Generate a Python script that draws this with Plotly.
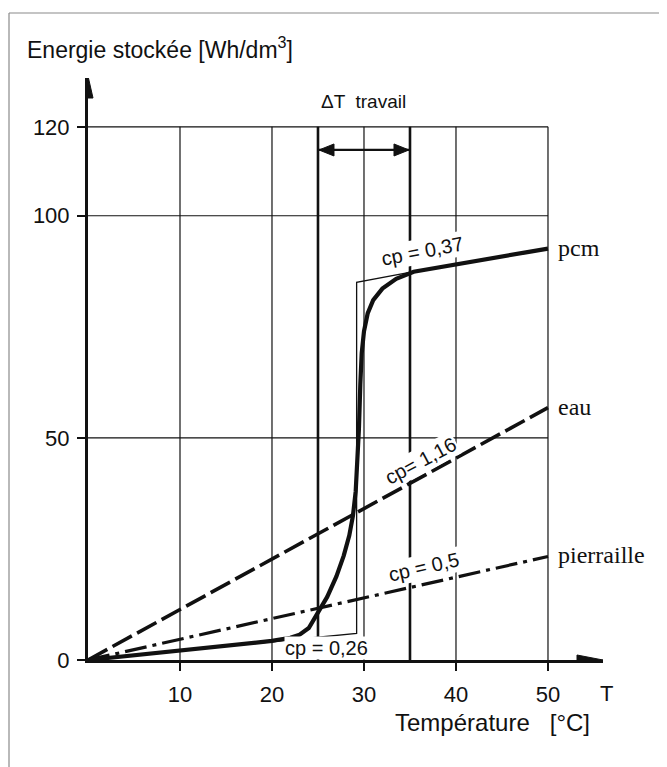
import plotly.graph_objects as go

# ---- data ----
pcm_T = [0, 10, 20, 22, 23, 24, 25, 26, 27, 27.8, 28.4, 28.8, 29.1, 29.3, 29.45, 29.6, 29.75, 30.0, 30.4, 31.0, 32.0, 33.5, 35.4, 50]
pcm_E = [0, 2.1, 4.3, 5.0, 5.7, 7.2, 10.6, 14.2, 18.8, 23.5, 28.0, 32.5, 38.0, 45.0, 52.0, 62.0, 69.0, 74.0, 78.0, 81.0, 83.6, 85.8, 87.4, 92.6]
pcm_ideal_T = [0, 29.2, 29.2, 35.4]
pcm_ideal_E = [0, 6.0, 85.0, 87.4]
eau_T = [0, 50]
eau_E = [0, 56.8]
pierre_T = [0, 50]
pierre_E = [0, 23.3]

x_ticks = [10, 20, 30, 40, 50]
x_ticktext = ["10", "20", "30", "40", "50"]
y_ticks = [0, 50, 100, 120]
y_ticktext = ["0", "50", "100", "120"]
v_grid = [10, 20, 30, 40, 50]
h_grid = [50, 100, 120]
work_band = [25, 35]
series_names = ["pcm", "eau", "pierraille"]
cp_labels = ["cp = 0,37", "cp= 1,16", "cp = 0,5", "cp = 0,26"]

SANS = "Liberation Sans"
SERIF = "Liberation Serif"
INK = "#111111"

# page body has an 8px margin: shift the figure accordingly
L, T, R, B = 80, 70, 64, 107
W, H = 659, 759
PW, PH = W - L - R, H - T - B          # plot area in px
XMAX, YMAX = 55.98, 131.0


def px_x(p):  # page pixel -> paper x
    return (p - 8 - L) / PW


def px_y(p):  # page pixel -> paper y
    return (H - B - (p - 8)) / PH


fig = go.Figure()

fig.add_trace(go.Scatter(x=pcm_ideal_T, y=pcm_ideal_E, mode="lines",
                         line=dict(color=INK, width=1.3), cliponaxis=False, showlegend=False))
fig.add_trace(go.Scatter(x=eau_T, y=eau_E, mode="lines",
                         line=dict(color=INK, width=3.6, dash="22px,6px"), cliponaxis=False, showlegend=False))
fig.add_trace(go.Scatter(x=pierre_T, y=pierre_E, mode="lines",
                         line=dict(color=INK, width=3.2, dash="22px,6px,4px,6px"), cliponaxis=False, showlegend=False))
fig.add_trace(go.Scatter(x=pcm_T, y=pcm_E, mode="lines",
                         line=dict(color=INK, width=4.2), cliponaxis=False, showlegend=False))

shapes = []
for v in v_grid:
    shapes.append(dict(type="line", xref="x", yref="y", x0=v, x1=v, y0=0, y1=h_grid[-1],
                       line=dict(color=INK, width=1.2), layer="below"))
for v in work_band:
    shapes.append(dict(type="line", xref="x", yref="y", x0=v, x1=v, y0=0, y1=h_grid[-1],
                       line=dict(color=INK, width=2.6), layer="below"))
for h in h_grid:
    shapes.append(dict(type="line", xref="x", yref="y", x0=0, x1=v_grid[-1], y0=h, y1=h,
                       line=dict(color=INK, width=1.2), layer="below"))

arr_y = 114.8
shapes.append(dict(type="line", xref="x", yref="y", x0=work_band[0], x1=work_band[1], y0=arr_y, y1=arr_y,
                   line=dict(color=INK, width=2.2)))
shapes.append(dict(type="path", xref="x", yref="y", xsizemode="pixel", ysizemode="pixel",
                   xanchor=work_band[0], yanchor=arr_y, path="M 1,0 L 16,6 L 16,-6 Z",
                   fillcolor=INK, line=dict(color=INK, width=1)))
shapes.append(dict(type="path", xref="x", yref="y", xsizemode="pixel", ysizemode="pixel",
                   xanchor=work_band[1], yanchor=arr_y, path="M -1,0 L -16,6 L -16,-6 Z",
                   fillcolor=INK, line=dict(color=INK, width=1)))

shapes.append(dict(type="path", xref="x", yref="y", xsizemode="pixel", ysizemode="pixel",
                   xanchor=0, yanchor=YMAX, path="M 0,2 L -5,-20 L 5,-20 Z",
                   fillcolor=INK, line=dict(color=INK, width=1)))
shapes.append(dict(type="path", xref="x", yref="y", xsizemode="pixel", ysizemode="pixel",
                   xanchor=XMAX, yanchor=0, path="M 0,0 L -26,5 L -26,-5 Z",
                   fillcolor=INK, line=dict(color=INK, width=1)))

# frame (top and left edges)
shapes.append(dict(type="line", xref="paper", yref="paper", x0=px_x(9), x1=px_x(662), y0=px_y(13), y1=px_y(13),
                   line=dict(color="#8a8a8a", width=1.2)))
shapes.append(dict(type="line", xref="paper", yref="paper", x0=px_x(9), x1=px_x(9), y0=px_y(13), y1=px_y(800),
                   line=dict(color="#8a8a8a", width=1.2)))

ann = []
for name, yv in zip(series_names, [pcm_E[-1], eau_E[-1], pierre_E[-1]]):
    ann.append(dict(x=50, y=yv, xref="x", yref="y", text=name, showarrow=False,
                    xanchor="left", yanchor="middle", xshift=8, yshift=1,
                    font=dict(family=SERIF, size=24, color=INK)))
ann.append(dict(x=36.4, y=92.0, xref="x", yref="y", text=cp_labels[0], showarrow=False,
                textangle=-11, bgcolor="white", font=dict(family=SANS, size=20, color=INK)))
ann.append(dict(x=36.1, y=44.8, xref="x", yref="y", text=cp_labels[1], showarrow=False,
                textangle=-28, bgcolor="white", font=dict(family=SANS, size=20, color=INK)))
ann.append(dict(x=36.5, y=21.0, xref="x", yref="y", text=cp_labels[2], showarrow=False,
                textangle=-13, bgcolor="white", font=dict(family=SANS, size=20, color=INK)))
ann.append(dict(x=25.9, y=2.7, xref="x", yref="y", text=cp_labels[3], showarrow=False,
                bgcolor="white", borderpad=0, font=dict(family=SANS, size=20, color=INK)))
ann.append(dict(x=px_x(25), y=px_y(48), xref="paper", yref="paper",
                text="Energie stockée [Wh/dm<sup>3</sup>]", showarrow=False,
                xanchor="left", yanchor="middle", font=dict(family=SANS, size=23, color=INK)))
ann.append(dict(x=30, y=px_y(101) * YMAX, xref="x", yref="y", text="ΔT  travail", showarrow=False,
                xanchor="center", yanchor="middle", font=dict(family=SANS, size=19, color=INK)))
ann.append(dict(x=px_x(393), y=px_y(722), xref="paper", yref="paper",
                text="Température   [°C]", showarrow=False,
                xanchor="left", yanchor="middle", font=dict(family=SANS, size=24, color=INK)))
ann.append(dict(x=px_x(606), y=px_y(693), xref="paper", yref="paper",
                text="T", showarrow=False,
                xanchor="center", yanchor="middle", font=dict(family=SANS, size=22, color=INK)))

fig.update_layout(
    width=W, height=H,
    margin=dict(l=L, r=R, t=T, b=B),
    paper_bgcolor="white", plot_bgcolor="white",
    shapes=shapes, annotations=ann, showlegend=False,
    xaxis=dict(range=[0, XMAX], showgrid=False, zeroline=False, showline=True,
               linewidth=3, linecolor=INK, ticks="outside", ticklen=8, tickwidth=1.5,
               tickcolor=INK, tickvals=x_ticks, ticktext=x_ticktext, ticklabelstandoff=5,
               tickfont=dict(family=SANS, size=22, color=INK), fixedrange=True),
    yaxis=dict(range=[0, YMAX], showgrid=False, zeroline=False, showline=True,
               linewidth=3, linecolor=INK, ticks="outside", ticklen=8, tickwidth=1.5,
               tickcolor=INK, tickvals=y_ticks, ticktext=y_ticktext, ticklabelstandoff=3,
               tickfont=dict(family=SANS, size=22, color=INK), fixedrange=True),
)

fig.write_html("out.html")
